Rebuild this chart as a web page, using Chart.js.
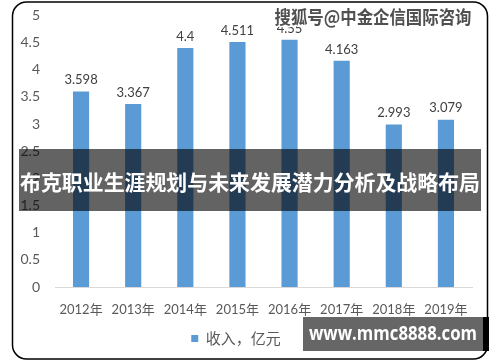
<!DOCTYPE html>
<html>
<head>
<meta charset="utf-8">
<script src="https://cdn.jsdelivr.net/npm/chart.js@4"></script>
<style>
  html, body { margin: 0; padding: 0; background: #fff; }
  #wrap { width: 500px; height: 362px; }
</style>
</head>
<body>
<div id="wrap"><canvas id="chart" width="500" height="362"></canvas></div>
<script>
const years = ["2012年", "2013年", "2014年", "2015年", "2016年", "2017年", "2018年", "2019年"];
const income = [3.598, 3.367, 4.4, 4.511, 4.55, 4.163, 2.993, 3.079];
const valueLabels = ["3.598", "3.367", "4.4", "4.511", "4.55", "4.163", "2.993", "3.079"];
const seriesName = "收入，亿元";
const title = "布克职业生涯规划与未来发展潜力分析及战略布局";
const watermark = "搜狐号@中金企信国际咨询";
const site = "www.mmc8888.com";

const FONT = "Lato, 'Noto Sans CJK SC', sans-serif";
const CJK = "'Noto Sans CJK SC', sans-serif";

// value labels above bars
const barLabels = {
  id: "barLabels",
  afterDatasetsDraw(chart) {
    const ctx = chart.ctx;
    const meta = chart.getDatasetMeta(0);
    ctx.save();
    ctx.font = "13px " + FONT;
    ctx.fillStyle = "#404040";
    ctx.textAlign = "center";
    ctx.textBaseline = "bottom";
    meta.data.forEach((bar, i) => {
      ctx.fillText(valueLabels[i], bar.x, bar.y - 5);
    });
    ctx.restore();
  },
};

// frame, overlay band, watermarks
const decorations = {
  id: "decorations",
  afterDraw(chart) {
    const ctx = chart.ctx;
    ctx.save();

    // overlay band with title
    ctx.fillStyle = "rgba(0,0,0,0.61)";
    ctx.fillRect(19, 149, 462, 62);
    ctx.font = "bold 21px " + CJK;
    ctx.fillStyle = "#fff";
    ctx.textAlign = "center";
    ctx.textBaseline = "middle";
    ctx.fillText(title, 250, 182, 460);

    // top watermark
    ctx.font = "bold 18px " + CJK;
    ctx.lineWidth = 3;
    ctx.strokeStyle = "#fff";
    ctx.lineJoin = "round";
    ctx.strokeText(watermark, 373, 17, 197);
    ctx.fillStyle = "#505050";
    ctx.fillText(watermark, 373, 17, 197);

    // rounded frame
    ctx.beginPath();
    ctx.roundRect(12.5, 2, 475, 357, 14);
    ctx.lineWidth = 1.5;
    ctx.strokeStyle = "#000";
    ctx.stroke();

    // site box
    ctx.fillStyle = "#666";
    ctx.fillRect(303, 317, 180, 34);
    ctx.fillStyle = "#000";
    ctx.fillRect(483, 317, 6, 34);
    ctx.font = "bold 19px 'Open Sans', sans-serif";
    ctx.fillStyle = "#fff";
    ctx.textAlign = "center";
    ctx.fillText(site, 393, 335, 168);

    ctx.restore();
  },
};

const ctx = document.querySelector("#chart").getContext("2d");
new Chart(ctx, {
  type: "bar",
  data: {
    labels: years,
    datasets: [
      {
        label: seriesName,
        data: income,
        backgroundColor: "#5b9bd5",
        borderWidth: 0,
        categoryPercentage: 0.62,
        barPercentage: 0.5,
      },
    ],
  },
  options: {
    responsive: false,
    animation: false,
    layout: { padding: { top: 11, left: 0, right: 28, bottom: 6 } },
    plugins: {
      tooltip: { enabled: false },
      legend: {
        display: true,
        position: "bottom",
        labels: {
          boxWidth: 7,
          boxHeight: 7,
          color: "#595959",
          font: { family: CJK, size: 15 },
          padding: 8,
        },
      },
    },
    scales: {
      x: {
        grid: { display: false },
        border: { display: true, color: "#d9d9d9", width: 1 },
        ticks: {
          color: "#595959",
          font: { family: FONT, size: 13 },
          padding: 7,
          maxRotation: 0,
        },
        afterFit(scale) {
          scale.height = 36;
        },
      },
      y: {
        min: 0,
        max: 5,
        grid: { display: false },
        border: { display: false },
        ticks: {
          stepSize: 0.5,
          color: "#595959",
          font: { family: FONT, size: 14 },
          padding: 7,
          callback: (v) => String(v),
        },
        afterFit(scale) {
          scale.width = 55;
        },
      },
    },
  },
  plugins: [barLabels, decorations],
});
</script>
</body>
</html>
